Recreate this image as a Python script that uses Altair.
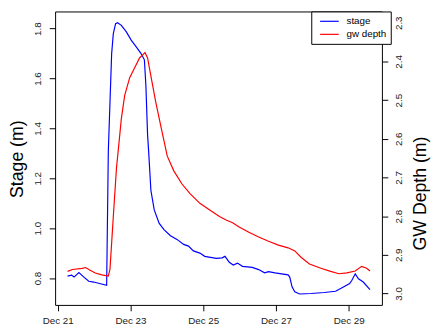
import altair as alt
import pandas as pd

# hours after Dec 21 00:00
stage_hours = [6.5, 9.1, 10.8, 14.0, 17.3, 20.5, 23.7, 32.3, 33.4, 34.5, 35.6, 36.7, 38.2, 39.5, 42.0, 45.3,
               48.5, 51.7, 55.0, 57.2, 58.2, 59.3, 60.0, 61.5, 63.7, 66.9, 70.1, 74.4, 78.7, 83.1, 86.3, 89.5,
               93.8, 97.0, 104.6, 108.5, 110.4, 113.2, 115.8, 118.6, 121.9, 128.3, 132.6, 136.5, 139.1, 143.4,
               152.0, 153.1, 154.6, 156.4, 159.6, 167.2, 175.8, 183.3, 187.6, 192.6, 194.1, 196.3, 198.4,
               201.6, 206.0]
stage_vals = [0.808, 0.812, 0.804, 0.822, 0.804, 0.787, 0.784, 0.771, 1.308, 1.505, 1.70, 1.78, 1.82, 1.824,
              1.813, 1.787, 1.754, 1.728, 1.70, 1.675, 1.57, 1.375, 1.308, 1.151, 1.073, 1.020, 0.994, 0.970,
              0.955, 0.935, 0.928, 0.909, 0.900, 0.887, 0.879, 0.881, 0.887, 0.863, 0.852, 0.860, 0.847,
              0.843, 0.834, 0.821, 0.826, 0.821, 0.813, 0.804, 0.765, 0.745, 0.736, 0.738, 0.742, 0.747,
              0.761, 0.778, 0.791, 0.817, 0.797, 0.784, 0.754]

gw_hours = [6.5, 9.7, 16.2, 18.4, 20.5, 24.8, 29.1, 33.4, 34.5, 36.7, 38.8, 39.9, 42.0, 44.2, 47.5, 50.7,
            54.0, 56.1, 57.6, 59.3, 61.5, 64.7, 67.9, 72.3, 76.6, 82.0, 87.3, 93.8, 100.3, 106.7, 111.1,
            115.4, 119.7, 126.1, 132.6, 139.1, 145.6, 152.0, 156.4, 160.7, 166.1, 173.6, 180.1, 185.5,
            190.8, 196.3, 200.5, 203.8, 206.0]
gw_vals = [2.943, 2.938, 2.935, 2.933, 2.938, 2.947, 2.952, 2.955, 2.937, 2.801, 2.675, 2.632, 2.548, 2.488,
           2.442, 2.417, 2.391, 2.383, 2.377, 2.391, 2.438, 2.505, 2.565, 2.645, 2.683, 2.717, 2.742, 2.767,
           2.784, 2.801, 2.810, 2.817, 2.828, 2.842, 2.854, 2.865, 2.875, 2.882, 2.890, 2.907, 2.924, 2.935,
           2.943, 2.949, 2.947, 2.942, 2.930, 2.935, 2.942]

x_tick_days = [21, 23, 25, 27, 29]
stage_ticks = [0.8, 1.0, 1.2, 1.4, 1.6, 1.8]
gw_ticks = [2.3, 2.4, 2.5, 2.6, 2.7, 2.8, 2.9, 3.0]
series_names = ["stage", "gw depth"]
series_colors = ["#0000ff", "#ff0000"]

base = pd.Timestamp("2014-12-21 00:00")


def to_time(hours):
    return [(base + pd.Timedelta(hours=h)).strftime("%Y-%m-%dT%H:%M:%S") for h in hours]


stage_df = pd.DataFrame({"time": to_time(stage_hours), "value": stage_vals, "series": series_names[0]})
gw_df = pd.DataFrame({"time": to_time(gw_hours), "value": gw_vals, "series": series_names[1]})

FONT = "Liberation Sans"

x_scale = alt.Scale(domain=[alt.DateTime(year=2014, month=12, date=20, hours=22, minutes=18),
                            alt.DateTime(year=2014, month=12, date=29, hours=21, minutes=54)])
x_axis = alt.Axis(values=[alt.DateTime(year=2014, month=12, date=d) for d in x_tick_days],
                  format="%b %d", title=None, labelAngle=0, labelPadding=5, grid=False)

color = alt.Color("series:N",
                  scale=alt.Scale(domain=series_names, range=series_colors),
                  legend=alt.Legend(title=None, orient="none", legendX=261, legendY=0,
                                    strokeColor="black", fillColor="white", padding=4,
                                    cornerRadius=0, symbolType="M-1.9,0H1.9", symbolSize=100,
                                    symbolOffset=8.5, symbolStrokeWidth=1.2, labelFontSize=10,
                                    labelFont=FONT, labelColor="black", labelOffset=11.4,
                                    rowPadding=2.3))

stage = alt.Chart(stage_df).mark_line(strokeWidth=1.2).encode(
    x=alt.X("time:T", scale=x_scale, axis=x_axis),
    y=alt.Y("value:Q",
            scale=alt.Scale(domain=[0.6923, 1.8688], nice=False, zero=False),
            axis=alt.Axis(values=stage_ticks, format=".1f", title="Stage (m)", grid=False,
                          labelAngle=270, labelAlign="center", labelBaseline="middle",
                          labelPadding=11.5, titleAngle=270, titleBaseline="middle",
                          titleAlign="center", titleX=-38, titleY=150)),
    color=color,
)

gw = alt.Chart(gw_df).mark_line(strokeWidth=1.2).encode(
    x=alt.X("time:T", scale=x_scale, axis=x_axis),
    y=alt.Y("value:Q",
            scale=alt.Scale(domain=[2.2708, 3.0297], reverse=True, nice=False, zero=False),
            axis=alt.Axis(orient="right", values=gw_ticks, format=".1f", title="GW Depth (m)",
                          grid=False, labelAngle=270, labelAlign="center", labelBaseline="middle",
                          labelPadding=11, titleAngle=270, titleBaseline="middle",
                          titleAlign="center", titleX=39, titleY=185)),
    color=color,
)

chart = alt.layer(stage, gw).resolve_scale(y="independent").properties(
    width=333, height=299,
    padding={"left": 48, "top": 0.5, "right": 50, "bottom": 22},
    autosize=alt.AutoSizeParams(type="none"),
).configure_view(stroke="black", strokeWidth=1).configure_axis(
    domain=False, tickColor="black", tickSize=6, tickWidth=1,
    labelFont=FONT, labelFontSize=10, labelColor="#222222",
    titleFont=FONT, titleFontSize=18, titleFontWeight="normal", titleColor="black",
)

chart.save("out.html", embed_options={"renderer": "svg", "actions": False})
